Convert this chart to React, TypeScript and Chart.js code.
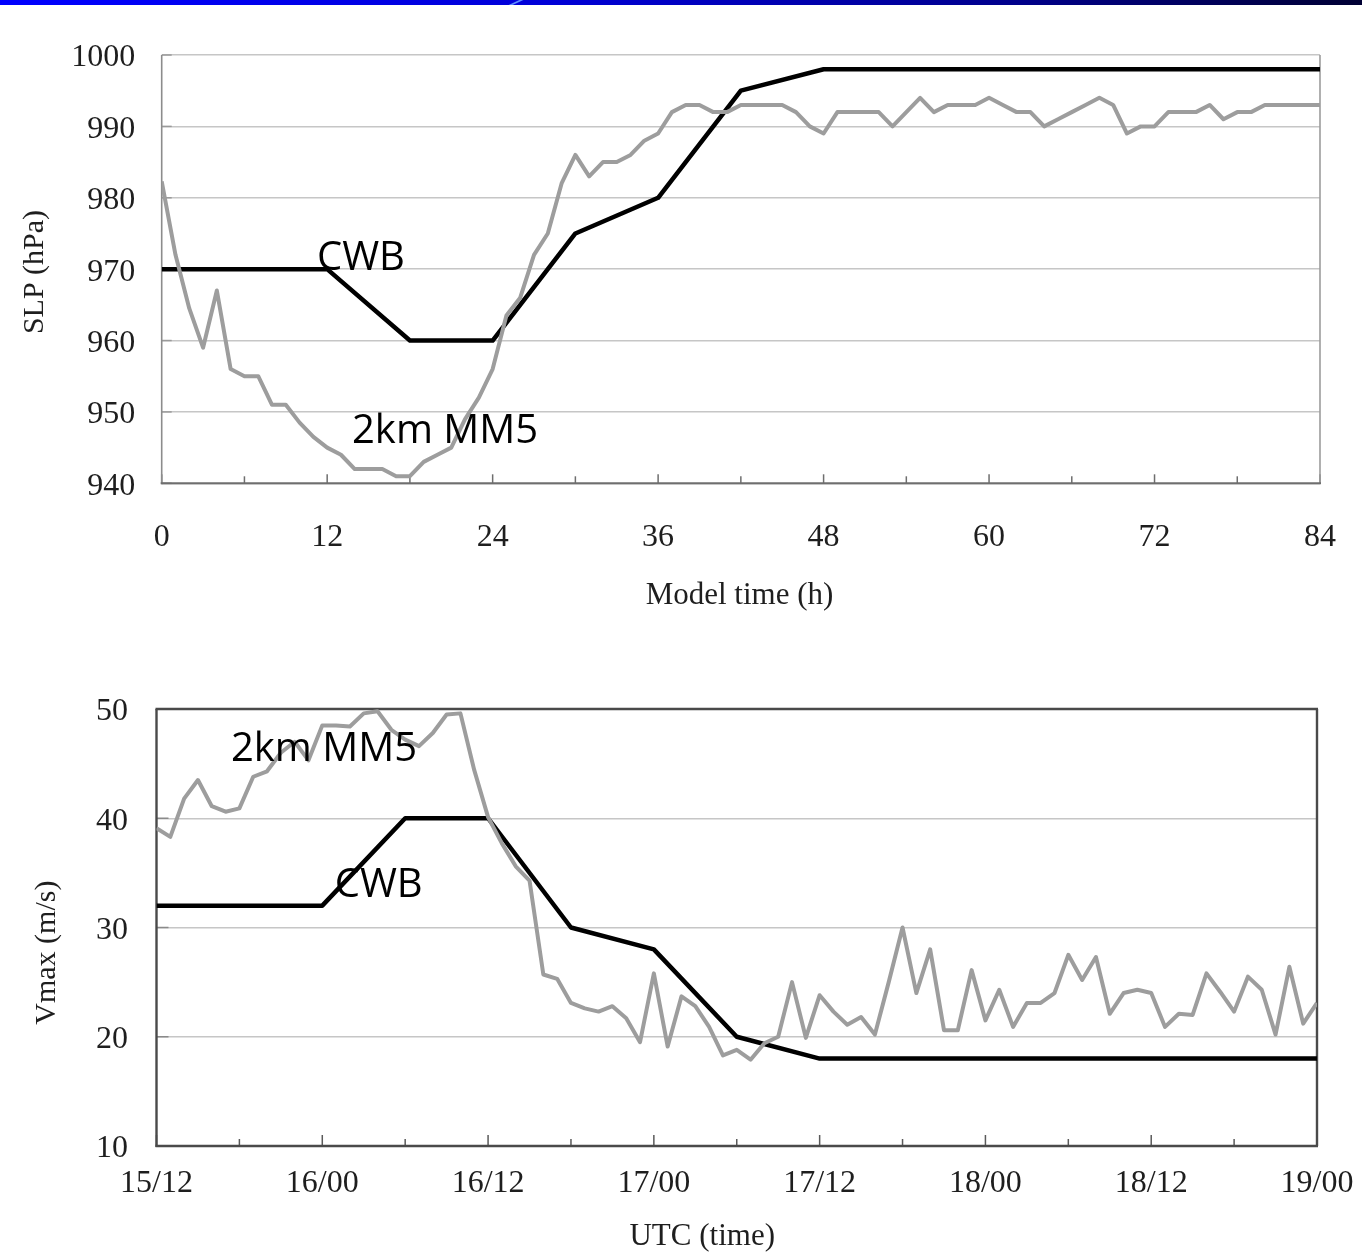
import React, { useEffect, useRef } from 'react';
import { Chart, registerables } from 'chart.js';

Chart.register(...registerables);

// ---------- data ----------
const hourlyHours = Array.from({ length: 85 }, (_, i) => i);
const cwbHours = [0, 6, 12, 18, 24, 30, 36, 42, 48, 54, 60, 66, 72, 78, 84];

const slpMM5 = [
  982.3, 972, 964.5, 959, 967, 956, 955, 955, 951, 951,
  948.5, 946.5, 945, 944, 942, 942, 942, 941, 941, 943,
  944, 945, 949, 952, 956, 963.5, 966, 972, 975, 982,
  986, 983, 985, 985, 986, 988, 989, 992, 993, 993,
  992, 992, 993, 993, 993, 993, 992, 990, 989, 992,
  992, 992, 992, 990, 992, 994, 992, 993, 993, 993,
  994, 993, 992, 992, 990, 991, 992, 993, 994, 993,
  989, 990, 990, 992, 992, 992, 993, 991, 992, 992,
  993, 993, 993, 993, 993,
];
const slpCWB = [970, 970, 970, 960, 960, 975, 980, 995, 998, 998, 998, 998, 998, 998, 998];

const vmaxMM5 = [
  39.1, 38.3, 41.8, 43.5, 41.1, 40.6, 40.9, 43.8, 44.3, 46,
  47, 45.3, 48.5, 48.5, 48.4, 49.6, 49.8, 48.1, 47.2, 46.6,
  47.8, 49.5, 49.6, 44.4, 40.1, 37.7, 35.6, 34.3, 25.7, 25.3,
  23.1, 22.6, 22.3, 22.8, 21.7, 19.5, 25.8, 19.1, 23.7, 22.8,
  20.9, 18.3, 18.8, 17.9, 19.4, 20.0, 25.0, 19.9, 23.8, 22.3,
  21.1, 21.8, 20.2, 25.0, 30.0, 24.0, 28.0, 20.6, 20.6, 26.1,
  21.5, 24.3, 20.9, 23.1, 23.1, 24.0, 27.5, 25.2, 27.3, 22.1,
  24.0, 24.3, 24.0, 20.9, 22.1, 22.0, 25.8, 24.1, 22.3, 25.5,
  24.3, 20.2, 26.4, 21.2, 23.1,
];
const vmaxCWB = [32, 32, 32, 40, 40, 30, 28, 20, 18, 18, 18, 18, 18, 18, 18];

const utcTickLabels = ['15/12', '16/00', '16/12', '17/00', '17/12', '18/00', '18/12', '19/00'];
const modelTickLabels = ['0', '12', '24', '36', '48', '60', '72', '84'];

// annotation anchors (data coordinates)
const slpLabels = [
  { text: 'CWB', x: 11.26, y: 969.9 },
  { text: '2km MM5', x: 13.8, y: 945.6 },
];
const vmaxLabels = [
  { text: '2km MM5', x: 5.39, y: 45.2 },
  { text: 'CWB', x: 12.9, y: 32.75 },
];

// ---------- styling ----------
const SERIF = '"Liberation Serif", "Times New Roman", serif';
const SANS = '"Open Sans", "Noto Sans", sans-serif';
const GRID = '#c6c6c6';
const GRAY_LINE = '#9d9d9d';
const TEXT = '#1e1e1e';

const decorPlugin = {
  id: 'decor',
  beforeDatasetsDraw(chart: any, _a: any, opts: any) {
    const { ctx, chartArea } = chart;
    const { left, right, top, bottom } = chartArea;
    const xs = chart.scales.x;
    const ys = chart.scales.y;
    ctx.save();
    ctx.lineCap = 'butt';
    // inward x tick marks every 6 h
    ctx.strokeStyle = opts.tickColor;
    ctx.lineWidth = 1.5;
    for (let h = 0; h <= 84; h += 6) {
      const px = xs.getPixelForValue(h);
      const len = h % 12 === 0 ? opts.majorLen : opts.minorLen;
      ctx.beginPath();
      ctx.moveTo(px, bottom);
      ctx.lineTo(px, bottom - len);
      ctx.stroke();
    }
    // inward y tick marks
    ctx.strokeStyle = opts.yTickColor;
    ys.ticks.forEach((t: any) => {
      const py = ys.getPixelForValue(t.value);
      ctx.beginPath();
      ctx.moveTo(left, py);
      ctx.lineTo(left + opts.yTickLen, py);
      ctx.stroke();
    });
    // frame
    const f = opts.frame;
    const seg = (s: any, x1: number, y1: number, x2: number, y2: number) => {
      if (!s) return;
      ctx.strokeStyle = s.color;
      ctx.lineWidth = s.width;
      ctx.beginPath();
      ctx.moveTo(x1, y1);
      ctx.lineTo(x2, y2);
      ctx.stroke();
    };
    seg(f.top, left - 1, top, right + 1, top);
    seg(f.right, right, top, right, bottom);
    seg(f.left, left, top, left, bottom + 1);
    seg(f.bottom, left - 1, bottom, right + 1, bottom);
    ctx.restore();
  },
  afterDatasetsDraw(chart: any, _a: any, opts: any) {
    const { ctx } = chart;
    const xs = chart.scales.x;
    const ys = chart.scales.y;
    ctx.save();
    ctx.fillStyle = '#000';
    ctx.font = opts.labelFont;
    ctx.textAlign = 'left';
    ctx.textBaseline = 'alphabetic';
    opts.labels.forEach((l: any) => {
      ctx.fillText(l.text, xs.getPixelForValue(l.x), ys.getPixelForValue(l.y));
    });
    // x title (centred on a data x position)
    const xt = opts.xTitle;
    ctx.font = xt.font;
    ctx.fillStyle = TEXT;
    ctx.textAlign = 'center';
    ctx.textBaseline = 'middle';
    ctx.fillText(xt.text, xs.getPixelForValue(xt.value), xt.y);
    // rotated y title
    const yt = opts.yTitle;
    ctx.translate(yt.x, ys.getPixelForValue(yt.value));
    ctx.rotate(-Math.PI / 2);
    ctx.font = yt.font;
    ctx.fillText(yt.text, 0, 0);
    ctx.restore();
  },
};

function makeConfig(p: any) {
  return {
    type: 'line',
    data: {
      datasets: [
        {
          label: '2km MM5',
          data: hourlyHours.map((h, i) => ({ x: h, y: p.mm5[i] })),
          borderColor: GRAY_LINE,
          borderWidth: 4,
          pointRadius: 0,
          tension: 0,
          borderJoinStyle: 'round',
        },
        {
          label: 'CWB',
          data: cwbHours.map((h, i) => ({ x: h, y: p.cwb[i] })),
          borderColor: '#000',
          borderWidth: 4.5,
          pointRadius: 0,
          tension: 0,
          borderJoinStyle: 'round',
        },
      ],
    },
    options: {
      responsive: false,
      animation: false,
      events: [],
      layout: { padding: p.padding },
      plugins: {
        legend: { display: false },
        tooltip: { enabled: false },
        decor: p.decor,
      },
      scales: {
        x: {
          type: 'linear',
          min: 0,
          max: 84,
          afterBuildTicks: (s: any) => {
            s.ticks = p.xLabels.map((_: string, i: number) => ({ value: i * 12 }));
          },
          ticks: {
            padding: 0,
            color: TEXT,
            font: { family: SERIF, size: 32 },
            maxRotation: 0,
            autoSkip: false,
            callback: (_v: any, i: number) => p.xLabels[i],
          },
          grid: { display: false, drawTicks: true, tickLength: p.xPad },
          border: { display: false },
          title: { display: false },
          afterFit: (s: any) => {
            s.height = p.xHeight;
          },
        },
        y: {
          min: p.yMin,
          max: p.yMax,
          ticks: {
            stepSize: 10,
            padding: p.yPad,
            labelOffset: 3,
            color: TEXT,
            font: { family: SERIF, size: 32 },
            callback: (v: any) => String(v),
          },
          grid: { color: GRID, lineWidth: 1.5, drawTicks: false },
          border: { display: false },
          afterFit: (s: any) => {
            s.width = p.yWidth;
          },
        },
      },
    },
    plugins: [decorPlugin],
  } as any;
}

function ChartCanvas(props: { cfg: any; top: number; height: number }) {
  const ref = useRef<HTMLCanvasElement>(null);
  useEffect(() => {
    if (!ref.current) return;
    const c = new Chart(ref.current, props.cfg);
    return () => c.destroy();
  }, []);
  return (
    <canvas
      ref={ref}
      width={1362}
      height={props.height}
      style={{ position: 'absolute', left: 0, top: props.top, width: 1362, height: props.height }}
    />
  );
}

export default function App() {
  const topCfg = makeConfig({
    mm5: slpMM5,
    cwb: slpCWB,
    yMin: 940,
    yMax: 1000,
    xLabels: modelTickLabels,
    padding: { top: 55, right: 42, left: 0, bottom: 0 },
    yWidth: 161.7,
    xHeight: 156.7,
    xPad: 35.5,
    yPad: 26.5,
    decor: {
      tickColor: '#6e6e6e',
      yTickColor: '#9a9a9a',
      majorLen: 9,
      minorLen: 7,
      yTickLen: 10,
      frame: {
        left: { color: '#8c8c8c', width: 1.6 },
        bottom: { color: '#6e6e6e', width: 2 },
        right: { color: '#9c9c9c', width: 1.6 },
        top: null,
      },
      labels: slpLabels,
      labelFont: `40px ${SANS}`,
      xTitle: { text: 'Model time (h)', value: 41.9, y: 596, font: `31px ${SERIF}` },
      yTitle: { text: 'SLP (hPa)', x: 35, value: 969.6, font: `30px ${SERIF}` },
    },
  });

  const botCfg = makeConfig({
    mm5: vmaxMM5,
    cwb: vmaxCWB,
    yMin: 10,
    yMax: 50,
    xLabels: utcTickLabels,
    padding: { top: 69, right: 45, left: 0, bottom: 0 },
    yWidth: 156.5,
    xHeight: 109,
    xPad: 18.8,
    yPad: 28.5,
    decor: {
      tickColor: '#5a5a5a',
      yTickColor: '#8a8a8a',
      majorLen: 11,
      minorLen: 7,
      yTickLen: 12,
      frame: {
        left: { color: '#4a4a4a', width: 2.4 },
        bottom: { color: '#4a4a4a', width: 2.4 },
        right: { color: '#4a4a4a', width: 2.4 },
        top: { color: '#4a4a4a', width: 2.4 },
      },
      labels: vmaxLabels,
      labelFont: `40px ${SANS}`,
      xTitle: { text: 'UTC (time)', value: 39.5, y: 597, font: `31px ${SERIF}` },
      yTitle: { text: 'Vmax (m/s)', x: 47, value: 27.7, font: `30px ${SERIF}` },
    },
  });

  return (
    <div style={{ position: 'absolute', left: 0, top: 0, width: 1362, height: 1255, background: '#fff', overflow: 'hidden' }}>
      <div
        style={{
          position: 'absolute',
          left: 0,
          top: 0,
          width: 1362,
          height: 5,
          background: 'linear-gradient(to right, #0000ff 0%, #0000d8 40%, #00008a 75%, #000033 100%)',
        }}
      />
      <div
        style={{
          position: 'absolute',
          left: 514,
          top: 0,
          width: 4,
          height: 5,
          background: '#5f8cff',
          transform: 'skewX(-65deg)',
        }}
      />
      <ChartCanvas cfg={topCfg} top={0} height={640} />
      <ChartCanvas cfg={botCfg} top={640} height={615} />
    </div>
  );
}
